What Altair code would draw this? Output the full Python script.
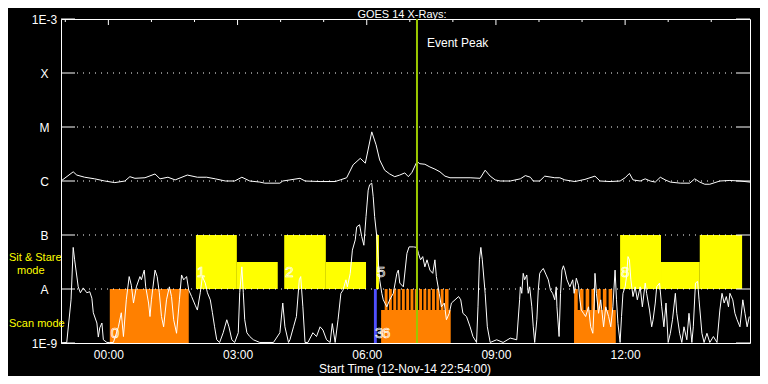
import altair as alt
import pandas as pd

# Times are minutes relative to 00:00 on 13-Nov-14 (plot starts 22:54 on 12-Nov-14)
T_START = -66
T_END = 894
EVENT_PEAK = 430

level_names = ["1E-9", "A", "B", "C", "M", "X", "1E-3"]
level_values = [-9, -8, -7, -6, -5, -4, -3]
hour_ticks = [0, 180, 360, 540, 720]

# GOES 14 long channel (1-8 A), log10 flux
long_xray = [(-66,-6.00),(-49,-5.83),(-44,-5.89),(-33,-5.93),(-19,-5.96),(-5,-6.00),(9,-6.03),(23,-6.00),
    (30,-5.92),(37,-5.95),(51,-5.94),(65,-5.87),(72,-5.96),(83,-5.93),(93,-5.98),(110,-5.89),(124,-5.93),
    (137,-5.93),(149,-5.96),(163,-6.00),(176,-6.00),(186,-5.93),(197,-6.00),(211,-6.02),(218,-6.04),
    (239,-6.04),(243,-6.00),(253,-5.98),(267,-5.95),(274,-6.00),(295,-6.01),(316,-6.01),(323,-5.98),
    (332,-5.94),(341,-5.70),(351,-5.58),(358,-5.67),(367,-5.09),(373,-5.33),(378,-5.61),(385,-5.80),
    (392,-5.87),(399,-5.92),(406,-5.89),(413,-5.85),(418,-5.92),(423,-5.84),(430,-5.64),(434,-5.68),
    (441,-5.69),(448,-5.74),(455,-5.78),(462,-5.83),(469,-5.91),(476,-5.94),(504,-5.94),(518,-5.95),
    (525,-5.80),(532,-5.91),(539,-5.98),(546,-6.00),(560,-6.00),(574,-5.96),(581,-5.90),(588,-5.93),
    (592,-6.00),(601,-6.00),(608,-5.91),(622,-5.94),(629,-5.94),(636,-5.98),(650,-6.01),(664,-5.97),
    (678,-5.91),(685,-6.00),(699,-6.01),(713,-6.00),(720,-5.94),(726,-5.86),(731,-5.98),(741,-6.00),
    (748,-5.96),(755,-6.00),(762,-6.02),(769,-5.93),(776,-5.98),(783,-6.02),(797,-6.04),(810,-6.04),
    (817,-5.96),(824,-6.02),(831,-6.06),(838,-6.06),(852,-6.00),(866,-5.99),(880,-6.00),(894,-6.02)]

# GOES 14 short channel (0.5-4 A), log10 flux
short_xray = [(-66,-9.00),(-58,-8.99),(-52,-8.20),(-49,-7.23),(-47,-7.46),(-42,-7.96),(-39,-8.07),(-35,-7.98),
    (-30,-8.07),(-26,-8.05),(-23,-8.17),(-21,-8.44),(-16,-8.63),(-14,-8.89),(-12,-8.72),(-9,-8.63),(-7,-8.94),
    (-2,-8.99),(2,-8.99),(7,-8.99),(14,-8.70),(18,-8.44),(21,-8.88),(25,-8.20),(29,-7.77),(32,-7.93),(35,-8.26),
    (39,-7.96),(44,-7.77),(46,-7.83),(50,-7.65),(52,-7.96),(56,-8.26),(58,-8.51),(60,-8.20),(65,-7.65),(68,-7.77),
    (71,-8.07),(74,-8.51),(77,-8.70),(81,-8.20),(85,-7.96),(88,-8.14),(91,-8.57),(95,-8.82),(99,-8.20),(102,-7.74),
    (105,-7.83),(109,-7.77),(112,-8.02),(116,-8.14),(121,-8.30),(124,-8.39),(128,-8.07),(131,-7.77),(135,-7.89),
    (138,-8.07),(142,-8.20),(145,-8.44),(148,-8.70),(151,-8.94),(155,-8.99),(160,-8.81),(165,-8.57),(168,-8.70),
    (172,-8.94),(176,-8.99),(181,-8.81),(183,-8.07),(186,-7.59),(188,-8.07),(190,-8.57),(193,-8.81),(197,-8.88),
    (202,-8.94),(211,-8.99),(230,-8.99),(239,-8.81),(243,-8.26),(246,-8.70),(251,-8.99),(253,-8.94),(258,-8.70),
    (262,-8.51),(266,-7.83),(268,-7.77),(271,-8.33),(274,-8.99),(278,-8.99),(285,-8.81),(290,-8.88),(295,-8.70),
    (299,-8.76),(304,-8.94),(309,-8.99),(312,-8.64),(316,-8.99),(320,-8.57),(324,-8.08),(327,-8.02),(331,-7.83),
    (333,-7.96),(337,-7.71),(340,-7.28),(344,-7.09),(346,-6.85),(350,-6.81),(353,-7.03),(356,-7.19),(359,-6.66),
    (362,-6.17),(364,-6.07),(367,-6.04),(369,-6.29),(371,-6.66),(374,-7.03),(376,-7.46),(378,-7.83),(381,-8.08),
    (383,-8.20),(388,-8.33),(392,-8.20),(397,-8.08),(402,-7.71),(404,-7.65),(406,-7.89),(411,-7.96),(416,-7.34),
    (419,-7.22),(425,-7.22),(430,-7.23),(432,-7.34),(435,-7.46),(438,-7.40),(441,-7.59),(444,-7.46),(448,-7.65),
    (452,-7.71),(455,-7.46),(457,-7.77),(461,-8.08),(464,-8.33),(468,-8.26),(471,-8.57),(475,-8.45),(478,-8.26),
    (483,-8.20),(488,-8.14),(491,-8.20),(494,-8.45),(499,-8.51),(504,-8.70),(508,-8.88),(513,-8.99),(515,-8.33),
    (517,-7.46),(519,-7.23),(521,-7.46),(525,-8.08),(528,-8.70),(532,-8.99),(541,-8.94),(550,-8.99),(560,-8.91),
    (569,-8.94),(573,-8.20),(574,-7.96),(576,-8.08),(578,-7.71),(580,-7.83),(583,-7.74),(585,-8.08),(587,-7.96),
    (590,-8.33),(592,-8.70),(594,-8.99),(597,-8.57),(599,-8.02),(601,-7.71),(604,-7.65),(606,-7.62),(610,-7.74),
    (613,-7.83),(616,-8.02),(619,-8.08),(622,-8.20),(624,-7.96),(625,-8.33),(628,-8.88),(630,-8.08),(632,-7.65),
    (634,-7.57),(636,-7.65),(639,-7.83),(643,-7.96),(647,-7.83),(649,-8.08),(652,-7.80),(655,-7.93),(657,-8.20),
    (659,-8.39),(662,-8.45),(665,-8.51),(669,-8.33),(672,-8.70),(675,-8.82),(677,-8.26),(678,-7.71),(680,-8.08),
    (683,-8.45),(686,-8.20),(690,-8.70),(693,-8.33),(697,-8.51),(700,-8.70),(703,-8.33),(706,-7.65),(708,-8.20),
    (710,-8.64),(713,-8.99),(715,-8.51),(717,-8.08),(720,-7.96),(722,-7.77),(724,-7.40),(726,-7.46),(728,-7.83),
    (731,-8.14),(734,-7.96),(737,-8.20),(741,-7.96),(744,-8.33),(748,-7.89),(750,-8.08),(754,-8.39),(757,-8.70),
    (759,-8.57),(762,-8.26),(764,-7.96),(768,-7.89),(771,-8.33),(774,-8.70),(777,-8.26),(780,-8.99),(783,-8.82),
    (786,-8.57),(790,-8.08),(792,-8.45),(796,-8.82),(799,-8.99),(802,-8.70),(806,-8.94),(809,-8.45),(813,-8.99),
    (815,-8.70),(818,-7.89),(821,-7.86),(823,-8.20),(827,-8.82),(830,-8.99),(834,-8.82),(838,-8.99),(843,-8.88),
    (848,-8.99),(852,-8.39),(855,-8.08),(858,-8.26),(861,-8.14),(864,-8.33),(866,-8.08),(870,-8.20),(873,-8.45),
    (876,-8.57),(880,-8.70),(884,-8.20),(887,-8.45),(890,-8.70),(893,-8.51)]

# Sit & Stare observations: (start, end, top level)
sit_stare = [(122,179,-7.0),(179,236,-7.5),(245,303,-7.0),(303,359,-7.5),(373,377,-7.0),
             (713,770,-7.0),(770,824,-7.5),(824,883,-7.0)]
# Scan mode observations: (start, end, top level)
scan_orange = [(2,112,-8.0),(380,477,-8.39),(649,707,-8.39),
    (385,389,-8.0),(391,395,-8.0),(397,401,-8.0),(403,407,-8.0),(409,413,-8.0),(415,419,-8.0),
    (421,425,-8.0),(427,431,-8.0),(433,437,-8.0),(439,443,-8.0),(445,449,-8.0),(451,455,-8.0),
    (457,461,-8.0),(463,467,-8.0),(469,474,-8.0),
    (649,654,-8.0),(657,662,-8.0),(665,670,-8.0),(673,678,-8.0),(681,686,-8.0),(689,694,-8.0),(697,702,-8.0)]
scan_blue = [(370,374,-8.0)]

# Observation numbers: (text, time, level)
obs_labels = [("0",2,-8.81),("1",122,-7.69),("2",245,-7.69),("5",373,-7.69),
              ("3",370,-8.81),("6",380,-8.81),("8",713,-7.69)]

W, H = 689, 324
FONT = "Liberation Sans"

xs = alt.Scale(domain=[T_START, T_END], nice=False, zero=False)
ys = alt.Scale(domain=[-9, -3], nice=False, zero=False)
x_axis = alt.Axis(values=hour_ticks, title=None, ticks=False, domain=False, grid=False,
    labelColor="white", labelFont=FONT, labelFontSize=12, labelPadding=6,
    labelExpr="(datum.value < 600 ? '0' : '') + datum.value/60 + ':00'")
y_axis = alt.Axis(values=level_values, title=None, ticks=False, domain=False, grid=False,
    labelColor="white", labelFont=FONT, labelFontSize=12, labelAlign="center",
    labelPadding=17, labelBaseline="middle",
    labelExpr="['1E-9','A','B','C','M','X','1E-3'][datum.value + 9]")

def X(f):
    return alt.X(f, scale=xs, axis=x_axis)

def Y(f):
    return alt.Y(f, scale=ys, axis=y_axis)

long_df = pd.DataFrame(long_xray, columns=["t", "f"])
short_df = pd.DataFrame(short_xray, columns=["t", "f"])
ss_df = pd.DataFrame(sit_stare, columns=["t0", "t1", "top"]).assign(bot=-8.0)
or_df = pd.DataFrame(scan_orange, columns=["t0", "t1", "top"]).assign(bot=-9.0)
bl_df = pd.DataFrame(scan_blue, columns=["t0", "t1", "top"]).assign(bot=-9.0)
lab_df = pd.DataFrame(obs_labels, columns=["txt", "t", "f"])
grid_df = pd.DataFrame({"lvl": level_values[1:-1]})
hours = list(range(-60, 900, 60))
minor_df = pd.DataFrame({"t": [h for h in hours if h % 180 != 0]})
major_df = pd.DataFrame({"t": [h for h in hours if h % 180 == 0]})
lvl_df = pd.DataFrame({"lvl": level_values})

def rects(df, color):
    return alt.Chart(df).mark_rect(color=color).encode(
        x=X("t0:Q"), x2="t1:Q", y=Y("bot:Q"), y2="top:Q")

yellow = rects(ss_df, "#ffff00")
orange = rects(or_df, "#ff8000")
blue = rects(bl_df, "#5050ff")

grid = alt.Chart(grid_df).mark_rule(color="white", strokeDash=[1, 5], strokeWidth=1).encode(
    y=Y("lvl:Q"), x=alt.value(16), x2=alt.value(675))
ltick = alt.Chart(lvl_df).mark_rule(color="white").encode(
    y=Y("lvl:Q"), x=alt.value(0), x2=alt.value(14))
rtick = alt.Chart(lvl_df).mark_rule(color="white").encode(
    y=Y("lvl:Q"), x=alt.value(675), x2=alt.value(W))
tminor = alt.Chart(minor_df).mark_rule(color="white").encode(
    x=X("t:Q"), y=alt.value(0), y2=alt.value(3))
tmajor = alt.Chart(major_df).mark_rule(color="white").encode(
    x=X("t:Q"), y=alt.value(0), y2=alt.value(6))

line_long = alt.Chart(long_df).mark_line(color="white", strokeWidth=1).encode(
    x=X("t:Q"), y=Y("f:Q"))
line_short = alt.Chart(short_df).mark_line(color="white", strokeWidth=1).encode(
    x=X("t:Q"), y=Y("f:Q"))

peak_df = pd.DataFrame({"t": [EVENT_PEAK], "lo": [-9], "hi": [-3], "txt": ["Event Peak"]})
peak = alt.Chart(peak_df).mark_rule(color="#9bc800", strokeWidth=2).encode(
    x=X("t:Q"), y=Y("lo:Q"), y2="hi:Q")
peak_txt = alt.Chart(peak_df).mark_text(color="white", font=FONT, fontSize=12, align="left",
    baseline="middle", dx=10).encode(x=X("t:Q"), y=alt.value(24), text="txt:N")

labels = alt.Chart(lab_df).mark_text(font=FONT, fontSize=15, align="left", baseline="middle",
    dx=1, fill="white", fillOpacity=0, stroke="white", strokeWidth=0.7).encode(
    x=X("t:Q"), y=Y("f:Q"), text="txt:N")

title_df = pd.DataFrame({"txt": ["GOES 14 X-Rays:"], "x": [341], "y": [-1.5]})
title_txt = alt.Chart(title_df).mark_text(color="white", font=FONT, fontSize=11, baseline="alphabetic").encode(
    x=alt.X("x:Q", scale=None), y=alt.Y("y:Q", scale=None), text="txt:N")

xtitle_df = pd.DataFrame({"txt": ["Start Time (12-Nov-14 22:54:00)"], "x": [344], "y": [354]})
xtitle_txt = alt.Chart(xtitle_df).mark_text(color="white", font=FONT, fontSize=12, baseline="alphabetic").encode(
    x=alt.X("x:Q", scale=None), y=alt.Y("y:Q", scale=None), text="txt:N")

side = pd.DataFrame({"txt": ["Sit & Stare", "mode", "Scan mode"],
                     "x": [-52, -44, -52], "y": [239, 252, 305]})
side_txt = alt.Chart(side).mark_text(color="#ffff00", font=FONT, fontSize=11, align="left",
    baseline="middle").encode(x=alt.X("x:Q", scale=None), y=alt.Y("y:Q", scale=None), text="txt:N")

chart = alt.layer(
    yellow, orange, blue, grid, ltick, rtick, tminor, tmajor,
    line_long, line_short, peak, peak_txt, labels, title_txt, xtitle_txt, side_txt
).properties(
    width=W, height=H,
    autosize=alt.AutoSizeParams(type="none"),
    padding={"left": 53, "top": 11, "right": 10, "bottom": 33},
).configure(background="black").configure_view(stroke="white", strokeWidth=1)

chart.save("out.html", embed_options={"renderer": "svg", "actions": False})
